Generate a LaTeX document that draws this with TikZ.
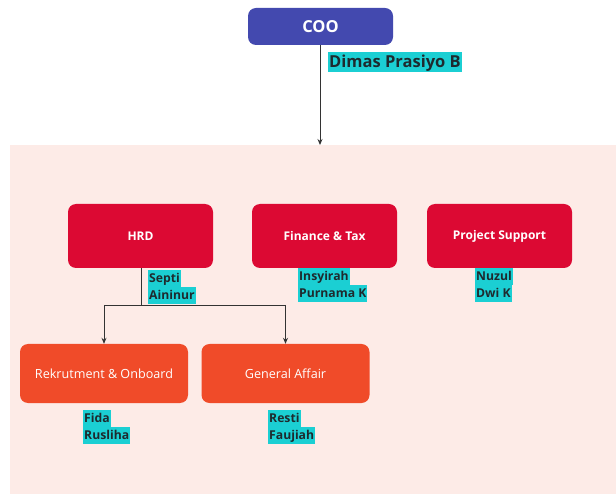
\documentclass[tikz,border=0pt]{standalone}
\usepackage{fontspec}
\setmainfont{Open Sans}
\usetikzlibrary{arrows.meta}
\definecolor{cooblue}{HTML}{4349AF}
\definecolor{bgpink}{HTML}{FDEBE7}
\definecolor{boxred}{HTML}{DC0933}
\definecolor{boxorange}{HTML}{F04B29}
\definecolor{hl}{HTML}{1BCFD3}
\definecolor{txt}{HTML}{1E2A2E}
\definecolor{linegray}{HTML}{333333}
\newcommand{\hlline}[1]{{\setlength{\fboxsep}{0pt}\colorbox{hl}{\rule[-4.5pt]{0pt}{17pt}\kern1pt #1\kern1pt}}}
\newcommand{\hlbig}[1]{{\setlength{\fboxsep}{0pt}\colorbox{hl}{\rule[-5pt]{0pt}{20pt}\kern1pt #1\kern1pt}}}
\tikzset{
  box/.style={rounded corners=8pt, draw=none, text=white, inner sep=0pt, align=center},
  cooboxst/.style={box, fill=cooblue, minimum width=145pt, minimum height=37pt, font=\fontsize{16.5}{18}\selectfont\bfseries},
  deptbox/.style={box, fill=boxred, minimum width=145pt, minimum height=64pt, font=\fontsize{12}{14}\selectfont\bfseries},
  subbox/.style={box, fill=boxorange, minimum width=168pt, minimum height=59pt, font=\fontsize{12.6}{14}\selectfont},
  namelbl/.style={anchor=north west, inner sep=0pt, align=left, text=txt, font=\fontsize{12.2}{17}\selectfont\bfseries},
  conn/.style={draw=linegray, line width=0.9pt},
  arr/.style={conn, -{Stealth[length=6pt,width=5pt]}}
}
\begin{document}
\begin{tikzpicture}[x=1pt,y=-1pt]
\useasboundingbox (0,0) rectangle (616,494);
\fill[bgpink] (10,145) rectangle (616,494);
% top
\node[cooboxst] (coo) at (320.5,26.5) {COO};
\node[anchor=north west, inner sep=0pt, text=txt, font=\fontsize{16.5}{20}\selectfont\bfseries] (dimas) at (328,52) {\hlbig{Dimas Prasiyo B}};
\coordinate (cootip) at (320,145);
\draw[arr] (coo.south -| cootip) -- (cootip);
% departments
\node[deptbox] (hrd) at (140.5,236) {HRD};
\node[deptbox] (fin) at (324.5,236) {Finance \& Tax};
\node[deptbox] (ps) at (499.5,236) {Project Support};
\node[namelbl] (septi) at (148,270) {\hlline{Septi}\\\hlline{Aininur}};
\node[namelbl] (insy) at (298,268) {\hlline{Insyirah}\\\hlline{Purnama K}};
\node[namelbl] (nuzul) at (475,268) {\hlline{Nuzul}\\\hlline{Dwi K}};
% sub units
\node[subbox] (rek) at (104,373.5) {Rekrutment \& Onboard};
\node[subbox] (ga) at (285.5,373.5) {General Affair};
\node[namelbl] (fida) at (83,410) {\hlline{Fida}\\\hlline{Rusliha}};
\node[namelbl] (resti) at (268,410) {\hlline{Resti}\\\hlline{Faujiah}};
% connectors
\coordinate (j) at (141,305);
\draw[conn] (hrd.south -| j) -- (j);
\draw[conn] (j -| rek.north) -- (j -| ga.north);
\draw[arr] (j -| rek.north) -- (rek.north);
\draw[arr] (j -| ga.north) -- (ga.north);
\end{tikzpicture}
\end{document}
